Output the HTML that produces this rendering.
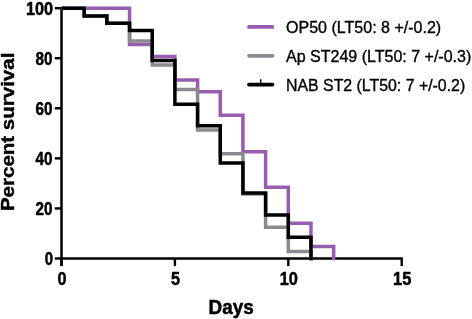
<!DOCTYPE html>
<html lang="en"><head><meta charset="utf-8"><title>Survival curve</title>
<style>html,body{margin:0;padding:0;background:#fff;}svg{display:block;will-change:transform;}</style>
</head><body>
<svg width="472" height="319" viewBox="0 0 472 319">
<rect width="472" height="319" fill="#fff"/>
<g stroke="#000" stroke-width="2.4" fill="none" stroke-linecap="butt">
<path d="M61.5,7.15 V266.1" stroke-width="2.5"/>
<path d="M60.5,258.5 H402.7"/>
<path d="M54.8,258.5 H61.5"/>
<path d="M54.8,208.43 H61.5"/>
<path d="M54.8,158.36 H61.5"/>
<path d="M54.8,108.29 H61.5"/>
<path d="M54.8,58.22 H61.5"/>
<path d="M54.8,8.15 H61.5"/>
<path d="M61.5,258.5 V266.1"/>
<path d="M174.9,258.5 V266.1"/>
<path d="M288.3,258.5 V266.1"/>
<path d="M401.7,258.5 V266.1"/>
</g>
<g fill="none" stroke-width="3.5" stroke-linejoin="miter" stroke-linecap="butt">
<path d="M61.5,8.15 H129.54 V44.45 H152.22 V56.47 H174.9 V80.0 H197.58 V91.64 H220.26 V115.3 H242.94 V151.85 H265.62 V187.15 H288.3 V223.2 H310.98 V246.48 H333.66 V260.25" stroke="#985cb0"/>
<path d="M61.5,8.15 H84.18 V15.91 H106.86 V23.17 H129.54 V40.95 H152.22 V64.98 H174.9 V89.51 H197.58 V130.07 H220.26 V153.85 H242.94 V193.91 H265.62 V227.21 H288.3 V251.49 H310.98 V260.25" stroke="#8b8b8f"/>
<path d="M61.5,8.15 H84.18 V15.91 H106.86 V23.17 H129.54 V30.43 H152.22 V60.47 H174.9 V104.28 H197.58 V125.81 H220.26 V163.12 H242.94 V193.03 H265.62 V214.94 H288.3 V237.22 H310.98 V260.25" stroke="#000"/>
</g>
<g font-family="Liberation Sans, Arial, Helvetica, sans-serif" font-weight="700" font-size="18" fill="#000" stroke="#000" stroke-width="0.5">
<text x="44.7" y="264.95" textLength="8.3" lengthAdjust="spacingAndGlyphs">0</text>
<text x="35.4" y="214.88" textLength="17.0" lengthAdjust="spacingAndGlyphs">20</text>
<text x="35.4" y="164.81" textLength="17.0" lengthAdjust="spacingAndGlyphs">40</text>
<text x="35.4" y="114.74" textLength="17.0" lengthAdjust="spacingAndGlyphs">60</text>
<text x="35.4" y="64.67" textLength="17.0" lengthAdjust="spacingAndGlyphs">80</text>
<text x="25.9" y="14.6" textLength="27.1" lengthAdjust="spacingAndGlyphs">100</text>
</g>
<g font-family="Liberation Sans, Arial, Helvetica, sans-serif" font-weight="700" font-size="18.4" fill="#000" stroke="#000" stroke-width="0.5">
<text x="57.5" y="285.0" textLength="9.0" lengthAdjust="spacingAndGlyphs">0</text>
<text x="170.9" y="285.0" textLength="9.0" lengthAdjust="spacingAndGlyphs">5</text>
<text x="279.7" y="285.0" textLength="18.2" lengthAdjust="spacingAndGlyphs">10</text>
<text x="393.1" y="285.0" textLength="18.2" lengthAdjust="spacingAndGlyphs">15</text>
</g>
<text font-family="Liberation Sans, Arial, Helvetica, sans-serif" font-weight="700" font-size="20.2" stroke="#000" stroke-width="0.5" x="208.6" y="313.5" textLength="45.2" lengthAdjust="spacingAndGlyphs">Days</text>
<text font-family="Liberation Sans, Arial, Helvetica, sans-serif" font-weight="700" font-size="17.6" stroke="#000" stroke-width="0.4" transform="translate(14.1,211.1) rotate(-90)" x="0" y="0" textLength="158.5" lengthAdjust="spacingAndGlyphs">Percent survival</text>
<g fill="none" stroke-width="3.8" stroke-linecap="round">
<path d="M249.0,26.9 H272.45" stroke="#985cb0"/>
<path d="M249.0,55.8 H272.45" stroke="#8b8b8f"/>
<path d="M249.0,84.6 H272.45" stroke="#000"/>
</g>
<path d="M260.7,79.3 V84.6" stroke="#000" stroke-width="1.5" fill="none"/>
<g font-family="Liberation Sans, Arial, Helvetica, sans-serif" font-size="16.2" fill="#000" stroke="#000" stroke-width="0.35">
<text x="286" y="33.4" textLength="155.2" lengthAdjust="spacingAndGlyphs">OP50 (LT50: 8 +/-0.2)</text>
<text x="286" y="62.3" textLength="185.3" lengthAdjust="spacingAndGlyphs">Ap ST249 (LT50: 7 +/-0.3)</text>
<text x="286" y="91.1" textLength="179.2" lengthAdjust="spacingAndGlyphs">NAB ST2 (LT50: 7 +/-0.2)</text>
</g>
</svg>
</body></html>
